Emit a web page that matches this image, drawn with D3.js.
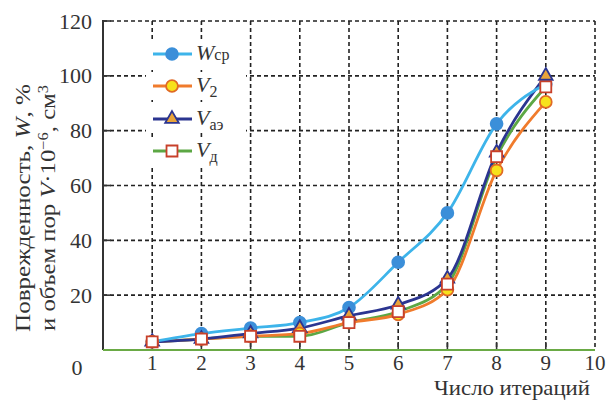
<!DOCTYPE html>
<html>
<head>
<meta charset="utf-8">
<script src="https://cdn.jsdelivr.net/npm/d3@7"></script>
<style>
  body { margin: 0; background: #fff; }
  text { font-family: "Liberation Serif", "DejaVu Serif", serif; fill: #333; }
</style>
</head>
<body>
<svg id="chart" width="607" height="400"></svg>
<script>
// iterations and measured values
let iterations = [1, 2, 3, 4, 5, 6, 7, 8, 9];
let wSr = [3, 6, 8, 10, 15.5, 32, 50, 82.5, 97];
let v2 = [3, 4, 5, 6, 10, 13, 22, 65.5, 90.5];
let vAe = [3, 4, 6, 8, 12.5, 16.5, 26, 72, 100];
let vD = [3, 4, 5, 5, 10, 14, 24, 70.5, 96];
let xTicks = [1, 2, 3, 4, 5, 6, 7, 8, 9, 10];
let yTicks = [20, 40, 60, 80, 100, 120];

let svg = d3.select("#chart");
let plotLeft = 103, plotRight = 595, plotTop = 21, plotBottom = 350;

let x = d3.scaleLinear().domain([0, 10]).range([plotLeft, plotRight]);
let y = d3.scaleLinear().domain([0, 120]).range([plotBottom, plotTop]);

// grid
let grid = svg.append("g")
    .attr("stroke", "#222")
    .attr("stroke-width", 1.6)
    .attr("stroke-dasharray", "4,3");

grid.selectAll(".vx").data(xTicks).enter().append("line")
    .attr("x1", d => x(d)).attr("x2", d => x(d))
    .attr("y1", y(120)).attr("y2", y(0));

grid.selectAll(".hy").data(yTicks).enter().append("line")
    .attr("x1", x(0)).attr("x2", x(10))
    .attr("y1", d => y(d)).attr("y2", d => y(d));

// small solid ticks
svg.append("g").selectAll("line").data(xTicks.slice(0, 9)).enter().append("line")
    .attr("x1", d => x(d)).attr("x2", d => x(d))
    .attr("y1", y(0)).attr("y2", y(0) - 8)
    .attr("stroke", "#333").attr("stroke-width", 1.6);

svg.append("g").selectAll("line").data(yTicks).enter().append("line")
    .attr("x1", x(0)).attr("x2", x(0) + 8)
    .attr("y1", d => y(d)).attr("y2", d => y(d))
    .attr("stroke", "#333").attr("stroke-width", 1.6);

// axes lines
svg.append("line")
    .attr("x1", x(0)).attr("x2", x(0))
    .attr("y1", y(120) - 1).attr("y2", y(0))
    .attr("stroke", "#333").attr("stroke-width", 2);

svg.append("line")
    .attr("x1", x(0)).attr("x2", x(10))
    .attr("y1", y(0)).attr("y2", y(0))
    .attr("stroke", "#6aaa45").attr("stroke-width", 2);

// tick labels
svg.append("g").selectAll("text").data(xTicks).enter().append("text")
    .attr("x", d => x(d)).attr("y", 370)
    .attr("text-anchor", "middle")
    .attr("font-size", 21)
    .text(d => d);

svg.append("g").selectAll("text").data(yTicks).enter().append("text")
    .attr("x", 92).attr("y", d => y(d) + 7.5)
    .attr("text-anchor", "end")
    .attr("font-size", 22)
    .text(d => d);

svg.append("text")
    .attr("x", 77).attr("y", 375)
    .attr("text-anchor", "middle")
    .attr("font-size", 22)
    .text("0");

// axis titles
svg.append("text")
    .attr("x", 590).attr("y", 395)
    .attr("text-anchor", "end")
    .attr("font-size", 21)
    .attr("textLength", 156)
    .attr("lengthAdjust", "spacingAndGlyphs")
    .text("Число итераций");

let yt1 = svg.append("text")
    .attr("transform", "translate(30,208) rotate(-90)")
    .attr("text-anchor", "middle")
    .attr("font-size", 21)
    .attr("textLength", 248)
    .attr("lengthAdjust", "spacingAndGlyphs");
yt1.append("tspan").text("Поврежденность, ");
yt1.append("tspan").attr("font-style", "italic").text("W");
yt1.append("tspan").text(", %");

let yt2 = svg.append("text")
    .attr("transform", "translate(55,208) rotate(-90)")
    .attr("text-anchor", "middle")
    .attr("font-size", 21)
    .attr("textLength", 246)
    .attr("lengthAdjust", "spacingAndGlyphs");
yt2.append("tspan").text("и объем пор ");
yt2.append("tspan").attr("font-style", "italic").text("V");
yt2.append("tspan").text("·10");
yt2.append("tspan").attr("dy", -7).attr("font-size", 14).text("−6");
yt2.append("tspan").attr("dy", 7).text(", см");
yt2.append("tspan").attr("dy", -7).attr("font-size", 14).text("3");

// series
let series = [
    { name: "W", sub: "ср", values: wSr, line: "#3db4ea", marker: "circle", fill: "#3b8fd9", stroke: "#3b8fd9" },
    { name: "V", sub: "2", values: v2, line: "#f07b2c", marker: "circle", fill: "#f7e21b", stroke: "#e06a25" },
    { name: "V", sub: "аэ", values: vAe, line: "#2b3590", marker: "triangle", fill: "#e9a43a", stroke: "#2b3590" },
    { name: "V", sub: "д", values: vD, line: "#5ca744", marker: "square", fill: "#ffffff", stroke: "#c8402a" }
];

let lineGen = d3.line()
    .x((d, i) => x(iterations[i]))
    .y(d => y(d))
    .curve(d3.curveMonotoneX);

let lineOrder = [3, 1, 2, 0];
lineOrder.forEach(k => {
    svg.append("path")
        .datum(series[k].values)
        .attr("d", lineGen)
        .attr("fill", "none")
        .attr("stroke", series[k].line)
        .attr("stroke-width", 2.8);
});

function markerPath(kind) {
    if (kind === "circle") return d3.symbol(d3.symbolCircle, 110)();
    if (kind === "square") return d3.symbol(d3.symbolSquare, 120)();
    return d3.symbol(d3.symbolTriangle, 80)();
}

let markerOrder = [0, 2, 1, 3];
markerOrder.forEach(k => {
    let s = series[k];
    svg.append("g").selectAll("path").data(s.values).enter().append("path")
        .attr("transform", (d, i) => `translate(${x(iterations[i])},${y(d)})`)
        .attr("d", markerPath(s.marker))
        .attr("fill", s.fill)
        .attr("stroke", s.stroke)
        .attr("stroke-width", 1.8);
});

// legend
let legend = svg.append("g");
let legendY = [54, 86, 119, 151];
series.forEach((s, i) => {
    let g = legend.append("g").attr("transform", `translate(0,${legendY[i]})`);
    g.append("rect").attr("x", 146).attr("y", -14).attr("width", 100).attr("height", 28).attr("fill", "#fff");
    g.append("line").attr("x1", 153).attr("x2", 192).attr("y1", 0).attr("y2", 0)
        .attr("stroke", s.line).attr("stroke-width", 2.8);
    g.append("path").attr("transform", "translate(172,0)")
        .attr("d", markerPath(s.marker))
        .attr("fill", s.fill).attr("stroke", s.stroke).attr("stroke-width", 1.8);
    let t = g.append("text").attr("x", 196).attr("y", 6).attr("font-size", 22);
    t.append("tspan").attr("font-style", "italic").text(s.name);
    t.append("tspan").attr("font-size", 16).attr("dy", s.sub === "ср" ? 0 : 5).text(s.sub);
});
</script>
</body>
</html>
